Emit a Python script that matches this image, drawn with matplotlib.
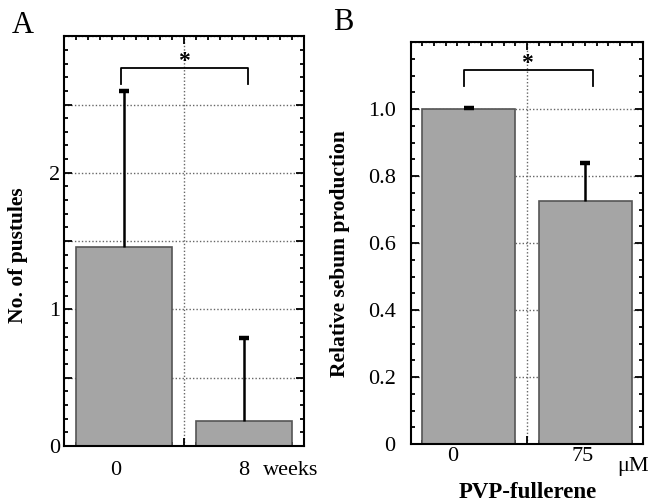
import matplotlib
matplotlib.use('Agg')
import matplotlib.pyplot as plt
from matplotlib.ticker import MultipleLocator, FuncFormatter
import matplotlib.transforms as mtransforms

plt.rcParams['font.family'] = ['Liberation Serif', 'DejaVu Serif']

# Panel A: pustules
weeks = ['0', '8']
pustules_mean = [1.46, 0.18]
pustules_err = [1.14, 0.61]

# Panel B: sebum
dose = ['0', '75']
sebum_mean = [1.0, 0.726]
sebum_err = [0.004, 0.114]

bar_color = '#a5a5a5'
edge_color = '#555555'
tick_fs = 16
lab_fs = 15.5


def style_axes(ax, ymax, ymajor, yminor, pad):
    ax.set_xlim(-0.5, 1.5)
    ax.set_ylim(0, ymax)
    ax.set_xticks([0.5])
    ax.set_xticklabels([])
    ax.xaxis.set_minor_locator(MultipleLocator(0.1))
    ax.yaxis.set_major_locator(MultipleLocator(ymajor))
    ax.yaxis.set_minor_locator(MultipleLocator(yminor))
    ax.tick_params(which='both', direction='in', top=True, right=True, width=1.3)
    ax.tick_params(which='major', length=6, labelsize=tick_fs)
    ax.tick_params(axis='y', which='major', pad=pad)
    ax.tick_params(which='minor', length=3)
    ax.grid(True, which='major', linestyle=(0, (1, 1.5)), color='#666666', linewidth=1.0)
    ax.set_axisbelow(True)
    for s in ax.spines.values():
        s.set_linewidth(1.5)


def draw_bars(ax, xs, means, errs):
    ax.bar(xs, means, width=0.8, color=bar_color, edgecolor=edge_color, linewidth=1.2, zorder=2)
    tops = [m + e for m, e in zip(means, errs)]
    ax.vlines(xs, means, tops, color='black', linewidth=1.8, zorder=3)
    ax.plot(xs, tops, linestyle='none', marker='_', markersize=7, markeredgewidth=3.2,
            color='black', zorder=3)


fig = plt.figure(figsize=(6.51, 5.03), dpi=100)
xs = [0, 1]

# ---- A ----
axA = fig.add_axes([0.0983, 0.1133, 0.3687, 0.8147])
style_axes(axA, 3.0, 0.5, 0.1, 2.5)
draw_bars(axA, xs, pustules_mean, pustules_err)
axA.yaxis.set_major_formatter(FuncFormatter(
    lambda v, p: f'{v:.0f}' if abs(v - round(v)) < 1e-6 and v < 2.9 else ''))
trA = mtransforms.blended_transform_factory(axA.transData, axA.transAxes)
axA.text(-0.07, -0.06, weeks[0], transform=trA, ha='center', va='center', fontsize=tick_fs)
axA.text(1.0, -0.06, weeks[1], transform=trA, ha='center', va='center', fontsize=tick_fs)
axA.text(1.16, -0.06, 'weeks', transform=trA, ha='left', va='center', fontsize=tick_fs)
axA.plot([-0.025, -0.025, 1.03, 1.03], [2.65, 2.77, 2.77, 2.65], color='black', lw=1.3, zorder=4)
axA.text(0.5, 2.74, '*', ha='center', va='bottom', fontsize=17, fontweight='bold', zorder=5)
fig.text(0.0276, 0.493, 'No. of pustules', rotation=90, ha='center', va='center',
         fontsize=lab_fs, fontweight='bold')
fig.text(0.035, 0.950, 'A', ha='center', va='center', fontsize=22)

# ---- B ----
axB = fig.add_axes([0.631, 0.117, 0.357, 0.7995])
style_axes(axB, 1.2, 0.2, 0.05, 11)
draw_bars(axB, xs, sebum_mean, sebum_err)
axB.yaxis.set_major_formatter(FuncFormatter(
    lambda v, p: '0' if abs(v) < 1e-9 else ('' if v > 1.1 else f'{v:.1f}')))
trB = mtransforms.blended_transform_factory(axB.transData, axB.transAxes)
axB.text(-0.138, -0.03, dose[0], transform=trB, ha='center', va='center', fontsize=tick_fs)
axB.text(0.98, -0.03, dose[1], transform=trB, ha='center', va='center', fontsize=tick_fs)
axB.text(1.276, -0.055, '\u03bcM', transform=trB, ha='left', va='center', fontsize=tick_fs)
axB.plot([-0.043, -0.043, 1.07, 1.07], [1.068, 1.116, 1.116, 1.068], color='black', lw=1.3, zorder=4)
axB.text(0.5, 1.105, '*', ha='center', va='bottom', fontsize=17, fontweight='bold', zorder=5)
fig.text(0.522, 0.496, 'Relative sebum production', rotation=90, ha='center', va='center',
         fontsize=lab_fs, fontweight='bold')
fig.text(0.811, 0.02, 'PVP-fullerene', ha='center', va='center', fontsize=16.5, fontweight='bold')
fig.text(0.527, 0.955, 'B', ha='center', va='center', fontsize=22)

fig.savefig('out.png', dpi=100)
